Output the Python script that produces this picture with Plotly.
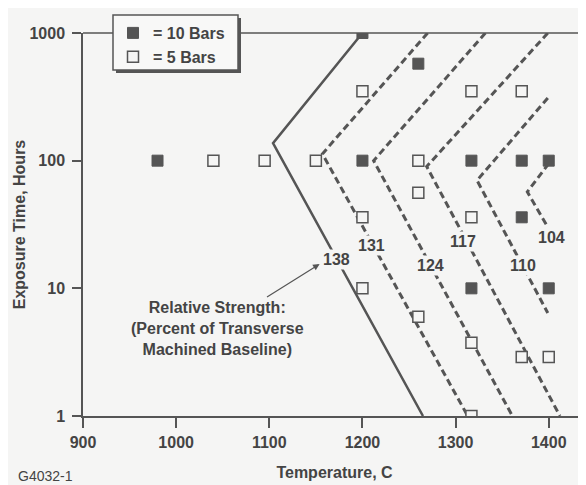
import math
import plotly.graph_objects as go

# ---------------- data ----------------
bars10_temp = [980, 1200, 1260, 1200, 1317, 1371, 1400, 1371, 1317, 1400]
bars10_hours = [100, 1000, 575, 100, 100, 100, 100, 36, 10, 10]

bars5_temp = [1040, 1095, 1150, 1260, 1200, 1317, 1371, 1260, 1200, 1317,
              1200, 1260, 1317, 1371, 1400, 1317]
bars5_hours = [100, 100, 100, 100, 350, 350, 350, 56, 36, 36,
               10, 6, 3.75, 2.9, 2.9, 1]

# relative-strength contour lines (vertices)
c138_temp = [1200, 1104, 1265]
c138_hours = [1000, 137, 1]
c131_temp = [1270, 1157, 1313]
c131_hours = [1000, 113, 1]
c124_temp = [1332, 1212, 1361]
c124_hours = [1000, 100, 1]
c117_temp = [1399, 1269, 1412]
c117_hours = [1000, 90, 1]
c110_temp = [1399, 1323, 1399]
c110_hours = [310, 70, 6.4]
c104_temp = [1400, 1377, 1398]
c104_hours = [95, 57, 31]

contour_labels = ["138", "131", "124", "117", "110", "104"]
label_temp = [1172, 1210, 1273, 1308, 1372, 1403]
label_hours = [16.7, 21.8, 15.2, 23.1, 15.2, 25.2]

x_ticks = [900, 1000, 1100, 1200, 1300, 1400]
y_ticks = [1, 10, 100, 1000]

# ---------------- style ----------------
BG = "#f5f5f4"
INK = "#555555"
TXT = "#444444"
FONT = "Liberation Sans, Arial, sans-serif"

W, H = 586, 485
OFF = 8                       # page body margin offset
L, T, PW, PH = 83, 33, 503, 383  # plot area in page pixels


def px(xp):
    return (xp - L) / PW


def py(yp):
    return 1 - (yp - T) / PH


fig = go.Figure()

dash = "7px,4px"
contours = [
    (c138_temp, c138_hours, "solid", 2.5),
    (c131_temp, c131_hours, dash, 3),
    (c124_temp, c124_hours, dash, 3),
    (c117_temp, c117_hours, dash, 3),
    (c110_temp, c110_hours, dash, 3),
    (c104_temp, c104_hours, dash, 3),
]
for xs, ys, d, w in contours:
    fig.add_trace(go.Scatter(x=xs, y=ys, mode="lines", showlegend=False,
                             line=dict(color=INK, width=w, dash=d),
                             hoverinfo="skip"))

fig.add_trace(go.Scatter(x=bars10_temp, y=bars10_hours, mode="markers",
                         name="<b>= 10 Bars</b>",
                         marker=dict(symbol="square", size=11, color=INK,
                                     line=dict(color=INK, width=1))))
fig.add_trace(go.Scatter(x=bars5_temp, y=bars5_hours, mode="markers",
                         name="<b>= 5 Bars</b>",
                         marker=dict(symbol="square", size=11, color=BG,
                                     line=dict(color=INK, width=1.5))))

annotations = []
for t, xv, yv in zip(contour_labels, label_temp, label_hours):
    annotations.append(dict(x=xv, y=math.log10(yv), xref="x", yref="y",
                            text=f"<b>{t}</b>", showarrow=False, bgcolor=BG,
                            borderpad=1,
                            font=dict(family=FONT, size=16, color=TXT)))

annotations.append(dict(
    x=1154, y=math.log10(15.5), xref="x", yref="y",
    text="<b>Relative Strength:<br>(Percent of Transverse<br>Machined Baseline)</b>",
    showarrow=True, ax=-102, ay=64, arrowhead=2, arrowsize=1.1,
    arrowwidth=1.2, arrowcolor=INK, standoff=0, align="center",
    font=dict(family=FONT, size=16, color=TXT)))

annotations.append(dict(x=px(16), y=py(476), xref="paper", yref="paper",
                        xanchor="left", yanchor="middle", showarrow=False,
                        text="G4032-1",
                        font=dict(family=FONT, size=14, color=TXT)))

shapes = [
    # top frame line at 1000 h
    dict(type="line", xref="paper", yref="paper", x0=0, x1=1, y0=1, y1=1,
         line=dict(color=INK, width=1.5), layer="below"),
    # legend drop shadow and box
    dict(type="rect", xref="paper", yref="paper", x0=px(116), x1=px(241),
         y0=py(73), y1=py(18), fillcolor=INK, line=dict(width=0),
         layer="above"),
    dict(type="rect", xref="paper", yref="paper", x0=px(113), x1=px(238),
         y0=py(70), y1=py(15), fillcolor="#f8f8f7",
         line=dict(color=INK, width=1.5), layer="above"),
]

fig.update_layout(
    width=W, height=H,
    margin=dict(l=L - OFF, r=W - (L + PW - OFF), t=T - OFF,
                b=H - (T + PH - OFF), autoexpand=False),
    paper_bgcolor=BG, plot_bgcolor=BG,
    font=dict(family=FONT, size=16, color=TXT),
    showlegend=True,
    legend=dict(x=px(113), y=py(16), xanchor="left", yanchor="top",
                bgcolor="rgba(0,0,0,0)", borderwidth=0,
                font=dict(family=FONT, size=16, color=TXT),
                itemwidth=30, tracegroupgap=0),
    annotations=annotations,
    shapes=shapes,
    xaxis=dict(range=[900, 1440], tickvals=x_ticks,
               ticktext=[f"<b>{v}</b>" for v in x_ticks],
               showgrid=False, zeroline=False, showline=True,
               linecolor=INK, linewidth=1.5, ticks="outside", ticklen=10,
               tickwidth=1.5, tickcolor=INK, ticklabelstandoff=1,
               tickfont=dict(family=FONT, size=16, color=TXT),
               title=dict(text="<b>Temperature, C</b>", standoff=17,
                          font=dict(family=FONT, size=16, color=TXT))),
    yaxis=dict(type="log", range=[0, 3], tickvals=y_ticks,
               ticktext=[f"<b>{v}</b>" for v in y_ticks],
               showgrid=False, zeroline=False, showline=True,
               linecolor=INK, linewidth=1.5, ticks="outside", ticklen=9,
               tickwidth=1.5, tickcolor=INK, ticklabelstandoff=4,
               tickfont=dict(family=FONT, size=16, color=TXT),
               title=dict(text="<b>Exposure Time, Hours</b>", standoff=0,
                          font=dict(family=FONT, size=16, color=TXT))),
)

fig.write_html("out.html")
